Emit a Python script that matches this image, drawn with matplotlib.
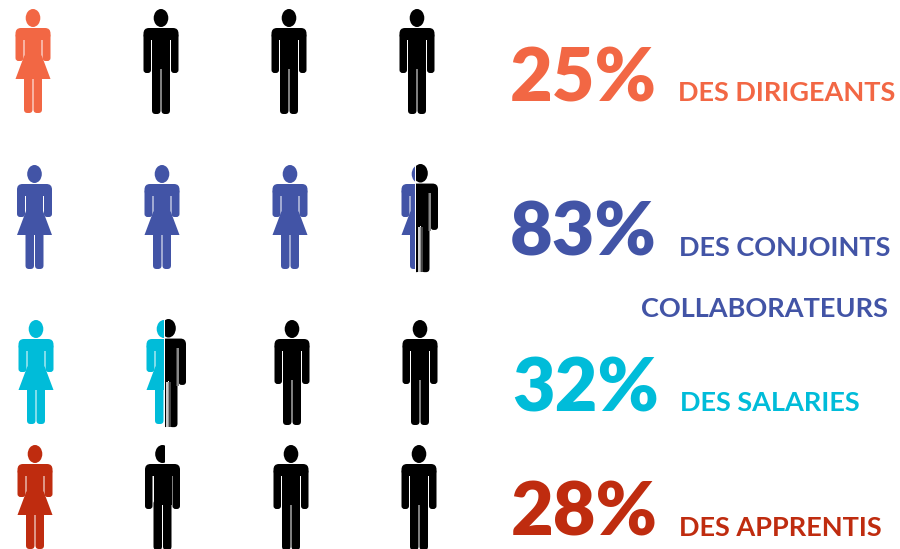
# -*- coding: utf-8 -*-
import matplotlib
matplotlib.use("Agg")
import matplotlib.pyplot as plt
from matplotlib.patches import Ellipse, FancyBboxPatch, Polygon, Rectangle
from matplotlib.transforms import Affine2D

plt.rcParams['font.family'] = ['Lato', 'DejaVu Sans']

# valeurs du graphique
percents = ["25%", "83%", "32%", "28%"]
labels = ["DES DIRIGEANTS", "DES CONJOINTS", "DES SALARIES", "DES APPRENTIS"]
extra_label = "COLLABORATEURS"
colors = ["#F26744", "#4254A6", "#00BCD9", "#BF2C0F"]
# F = femme, M = homme, X = moitié femme / moitié homme, H = homme tête coupée
icons = [
    ["F", "M", "M", "M"],
    ["F", "F", "F", "X"],
    ["F", "X", "M", "M"],
    ["F", "H", "M", "M"],
]

fig = plt.figure(figsize=(9, 5.49), dpi=100)
ax = fig.add_axes([0, 0, 1, 1])
ax.set_xlim(0, 900)
ax.set_ylim(549, 0)
ax.axis("off")


def place(p, cx, top, sy=1.0):
    p.set_transform(Affine2D().scale(1, sy).translate(cx, top) + ax.transData)
    ax.add_patch(p)
    return p


def clip(p, x, y, w, h):
    p.set_clip_path(Rectangle((x, y), w, h, transform=ax.transData))


def box(x0, y0, x1, y1, r, color):
    return FancyBboxPatch((x0, y0), x1 - x0, y1 - y0,
                          boxstyle=f"round,pad=0,rounding_size={r}",
                          fc=color, ec="none")


def woman(cx, top, color):
    parts = [Ellipse((0, 9), 14.6, 18, fc=color, ec="none"),
             box(-17.5, 19, 17.5, 31, 5.5, color),
             box(-17.5, 24, -9.5, 52, 3, color),
             box(9.5, 24, 17.5, 52, 3, color),
             Polygon([(-8.5, 25), (8.5, 25), (8.5, 46), (17.5, 70),
                      (-17.5, 70), (-8.5, 46)], fc=color, ec="none"),
             box(-9, 65, -0.5, 104, 3.5, color),
             box(0.5, 65, 9, 104, 3.5, color)]
    return [place(p, cx, top) for p in parts]


def man(cx, top, color, head_cut=False, sy=1.0):
    parts = [box(-17.5, 19, 17.5, 31, 5.5, color),
             box(-17.5, 24, -10, 64, 3, color),
             box(10, 24, 17.5, 64, 3, color),
             Rectangle((-9, 25), 18, 35, fc=color, ec="none"),
             box(-9, 55, -0.5, 105, 3.5, color),
             box(0.5, 55, 9, 105, 3.5, color)]
    out = [place(p, cx, top, sy) for p in parts]
    head = place(Ellipse((0, 9), 14.6, 18, fc=color, ec="none"), cx, top, sy)
    if head_cut:
        clip(head, cx - 20, top - 2, 22, 24)
    out.append(head)
    return out


def mixed(cx, split, man_x, top, color):
    # moitié gauche femme, moitié droite homme, coupées à split
    for p in woman(cx, top, color):
        clip(p, cx - 25, top - 2, split - cx + 25 - 0.5, 112)
    for p in man(man_x, top - 1, "black", sy=1.03):
        clip(p, split + 0.5, top - 4, 30, 114)
    # zones floues de l'image d'origine
    strips = [(7, 1.5, "#444444", 28, 66), (8.5, 1.5, "#888888", 28, 66),
              (-2.5, 1.5, "#cccccc", 62, 107), (-1, 1.5, "#999999", 62, 107),
              (0.5, 1.5, "#444444", 62, 107)]
    for off, w, shade, y0, y1 in strips:
        ax.add_patch(Rectangle((man_x + off, top + y0), w, y1 - y0,
                               fc=shade, ec="none", zorder=3))


icon_x = [[33, 161, 289, 417],
          [34.5, 162, 290, 419],
          [36, 164, 292, 420],
          [35, 162.5, 291, 419]]
split_x = {(1, 3): 415.5, (2, 1): 164.5}
man_half_x = {(1, 3): 420.5, (2, 1): 168.5}
icon_top = [9, 165, 320, 445]
text_y = [101, 256, 411, 536]
pct_x = [510, 510, 512, 511]
label_x = [678, 679, 680, 679]

for i, row in enumerate(icons):
    for j, kind in enumerate(row):
        cx = icon_x[i][j]
        if kind == "F":
            woman(cx, icon_top[i], colors[i])
        elif kind == "M":
            man(cx, icon_top[i], "black")
        elif kind == "H":
            man(cx, icon_top[i], "black", head_cut=True)
        else:
            mixed(cx, split_x[(i, j)], man_half_x[(i, j)], icon_top[i], colors[i])
    ax.text(pct_x[i], text_y[i], percents[i], color=colors[i], fontsize=53,
            fontweight="heavy", va="baseline", ha="left")
    ax.text(label_x[i], text_y[i], labels[i], color=colors[i], fontsize=19.5,
            fontweight="bold", va="baseline", ha="left")

ax.text(641, 317, extra_label, color=colors[1], fontsize=19.5,
        fontweight="bold", va="baseline", ha="left")

fig.savefig("out.png", dpi=100)
